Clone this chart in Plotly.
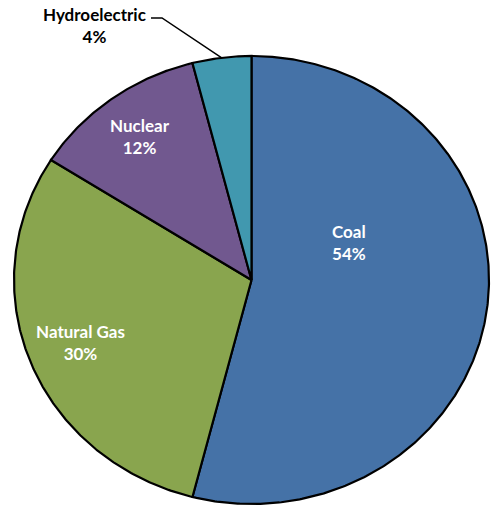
import numpy as np
import plotly.graph_objects as go

# Electricity generation share by source
sources = ["Coal", "Natural Gas", "Nuclear", "Hydroelectric"]
shares = [54, 30, 12, 4]
colors = ["#4572A7", "#89A54E", "#71588F", "#4198AF"]
label_colors = ["white", "white", "white", "black"]

W, H = 493, 508
# pixel box of the unit ellipse inside the page
BOX_L, BOX_R, BOX_T, BOX_B = 14, 489, 56, 504


def px_to_data(px, py):
    x = (px - BOX_L) / (BOX_R - BOX_L) * 2 - 1
    y = 1 - (py - BOX_T) / (BOX_B - BOX_T) * 2
    return x, y


x_lo, y_hi = px_to_data(0, 0)
x_hi, y_lo = px_to_data(W, H)

fig = go.Figure()

total = sum(shares)
start = 90.0  # degrees, 12 o'clock, going clockwise
mid_angles = []
for name, val, col in zip(sources, shares, colors):
    sweep = val / total * 360.0
    end = start - sweep
    t = np.radians(np.linspace(start, end, max(int(sweep * 2), 8)))
    xs = np.concatenate([[0], np.cos(t), [0]])
    ys = np.concatenate([[0], np.sin(t), [0]])
    fig.add_trace(go.Scatter(
        x=xs, y=ys, mode="lines", fill="toself", fillcolor=col,
        line=dict(color="black", width=2.2), hoverinfo="text",
        text=f"{name}: {val}%", showlegend=False,
    ))
    mid_angles.append((start + end) / 2)
    start = end

# label block centres (pixel positions in the page)
label_px = [(349, 242), (80, 342), (140, 136), (94, 25)]
for name, val, col, (lx, ly) in zip(sources, shares, label_colors, label_px):
    x, y = px_to_data(lx, ly)
    fig.add_annotation(
        x=x, y=y, xref="x", yref="y", showarrow=False,
        text=f"<b>{name}<br>{val}%</b>", align="center",
        font=dict(family="Lato, Open Sans, sans-serif", size=17, color=col),
        xanchor="center", yanchor="middle",
    )

# leader line for the small hydro slice
a = np.radians(mid_angles[3])
ex, ey = np.cos(a), np.sin(a)
hx0, hy = px_to_data(151, 18)
hx1, _ = px_to_data(162, 18)
fig.add_trace(go.Scatter(
    x=[hx0, hx1, ex], y=[hy, hy, ey], mode="lines",
    line=dict(color="black", width=1.5), hoverinfo="skip",
    showlegend=False,
))

fig.update_xaxes(range=[x_lo, x_hi], visible=False, fixedrange=True)
fig.update_yaxes(range=[y_lo, y_hi], visible=False, fixedrange=True)
fig.update_layout(
    width=W, height=H,
    margin=dict(l=0, r=0, t=0, b=0),
    paper_bgcolor="white", plot_bgcolor="white",
)

fig.write_html("out.html")
